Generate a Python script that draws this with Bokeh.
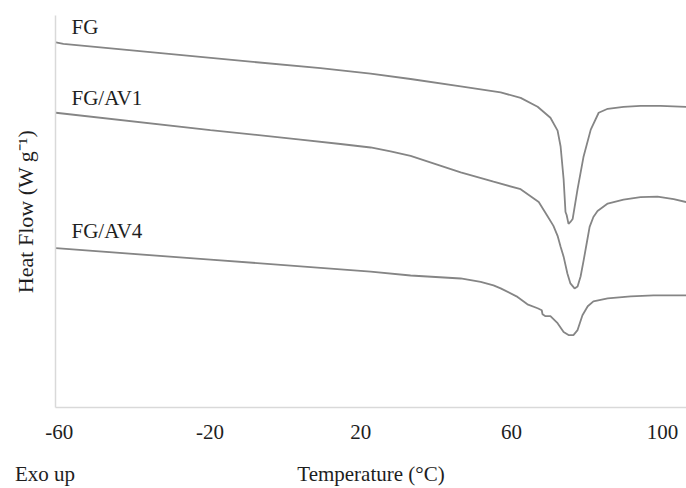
from bokeh.plotting import figure
from bokeh.models import FixedTicker, Range1d, LinearAxis
from bokeh.core.properties import value
from bokeh.embed import file_html
from bokeh.resources import INLINE

# ---- data ----
temp_fg = [-60.9, -58.9, -9.3, 9.3, 22.6, 33.2, 46.5, 57.1, 62.4, 66.9, 70.3, 72.2,
           73.0, 73.8, 74.3, 74.6, 75.1, 75.6, 76.2, 77.5, 79.1, 81.0, 83.1, 85.5,
           89.7, 94.2, 99.5, 106.3]
hf_fg = [7.36, 7.33, 6.97, 6.84, 6.73, 6.62, 6.47, 6.35, 6.24, 6.06, 5.84, 5.58,
         5.26, 4.60, 3.94, 3.88, 3.70, 3.74, 3.80, 4.40, 5.06, 5.60, 5.94, 6.02,
         6.06, 6.08, 6.08, 6.06]

temp_av1 = [-60.9, -19.9, 4.0, 14.6, 22.6, 27.9, 33.2, 46.5, 55.2, 62.4, 67.2, 69.5,
            71.1, 72.2, 73.0, 73.8, 74.8, 75.6, 76.7, 77.5, 78.3, 79.1, 79.9, 80.7,
            81.7, 82.8, 85.5, 89.7, 94.2, 98.7, 103.0, 106.3]
hf_av1 = [5.94, 5.59, 5.40, 5.31, 5.24, 5.16, 5.07, 4.74, 4.55, 4.40, 4.14, 3.86,
          3.66, 3.46, 3.24, 3.04, 2.70, 2.50, 2.40, 2.44, 2.64, 2.96, 3.30, 3.64,
          3.84, 3.96, 4.11, 4.19, 4.24, 4.25, 4.20, 4.14]

temp_av4 = [-60.9, -19.9, 22.6, 33.2, 46.5, 51.8, 55.2, 57.1, 61.3, 64.2, 66.9, 68.0,
            68.2, 69.0, 70.3, 72.2, 73.8, 75.1, 76.4, 77.5, 78.8, 80.2, 81.7, 85.5,
            91.6, 97.7, 106.3]
hf_av4 = [3.21, 2.98, 2.74, 2.66, 2.60, 2.53, 2.46, 2.40, 2.24, 2.08, 2.00, 1.96,
          1.88, 1.84, 1.84, 1.70, 1.52, 1.46, 1.46, 1.56, 1.86, 2.04, 2.14, 2.20,
          2.24, 2.26, 2.26]

series_names = ["FG", "FG/AV1", "FG/AV4"]
name_x = [-56.75, -56.75, -56.75]
name_y = [7.66, 6.24, 3.56]

x_ticks = [-60, -20, 20, 60, 100]
x_tick_labels = ["-60", "-20", "20", "60", "100"]

x_title = "Temperature (°C)"
y_title = "Heat Flow (W g⁻¹)"
note = "Exo up"

FONT = "Liberation Serif"
TEXT_COLOR = "#1e1e1e"
LINE_COLOR = "#858585"
AXIS_COLOR = "#d9d9d9"

p = figure(width=686, height=488, output_backend="svg", toolbar_location=None,
           x_range=Range1d(-61.0, 106.4), y_range=Range1d(0, 7.9),
           min_border_left=55, min_border_right=0, min_border_top=15,
           min_border_bottom=78)
p.outline_line_color = None
p.grid.visible = False

for xs, ys in [(temp_fg, hf_fg), (temp_av1, hf_av1), (temp_av4, hf_av4)]:
    p.line(xs, ys, line_color=LINE_COLOR, line_width=1.8)

p.text(x=name_x, y=name_y, text=series_names, text_font=value(FONT),
       text_font_size="21px", text_color=TEXT_COLOR, text_baseline="alphabetic",
       text_align="left")

# main x axis
xa = p.xaxis[0]
xa.ticker = FixedTicker(ticks=x_ticks)
xa.major_label_overrides = {t: s for t, s in zip(x_ticks, x_tick_labels)}
xa.axis_line_color = AXIS_COLOR
xa.axis_line_width = 1.5
xa.major_tick_line_color = None
xa.minor_tick_line_color = None
xa.major_tick_out = 0
xa.minor_tick_out = 0
xa.major_label_text_font = FONT
xa.major_label_text_font_size = "21px"
xa.major_label_text_color = TEXT_COLOR
xa.major_label_standoff = 17
xa.axis_label = x_title
xa.axis_label_text_font = FONT
xa.axis_label_text_font_style = "normal"
xa.axis_label_text_font_size = "21px"
xa.axis_label_text_color = TEXT_COLOR
xa.axis_label_standoff = 20

# y axis (no ticks, no numbers)
ya = p.yaxis[0]
ya.ticker = FixedTicker(ticks=[])
ya.axis_line_color = AXIS_COLOR
ya.axis_line_width = 1.5
ya.major_tick_line_color = None
ya.minor_tick_line_color = None
ya.major_tick_out = 0
ya.minor_tick_out = 0
ya.axis_label = y_title
ya.axis_label_text_font = FONT
ya.axis_label_text_font_style = "normal"
ya.axis_label_text_font_size = "22px"
ya.axis_label_text_color = TEXT_COLOR
ya.axis_label_standoff = 18

# "Exo up" note at the start of the axis, on the x-title line
# (trailing no-break spaces shift the centred text to the left of the axis start)
p.extra_x_ranges = {"note": Range1d(0, 1)}
note_axis = LinearAxis(x_range_name="note", ticker=FixedTicker(ticks=[0]),
                       major_label_overrides={0: note + "\u00a0" * 4},
                       axis_line_color=None, major_tick_line_color=None,
                       minor_tick_line_color=None, major_tick_out=0, minor_tick_out=0,
                       major_label_text_font=FONT, major_label_text_font_size="21px",
                       major_label_text_color=TEXT_COLOR, major_label_standoff=-27)
p.add_layout(note_axis, "below")

open("out.html", "w").write(file_html(p, INLINE))
